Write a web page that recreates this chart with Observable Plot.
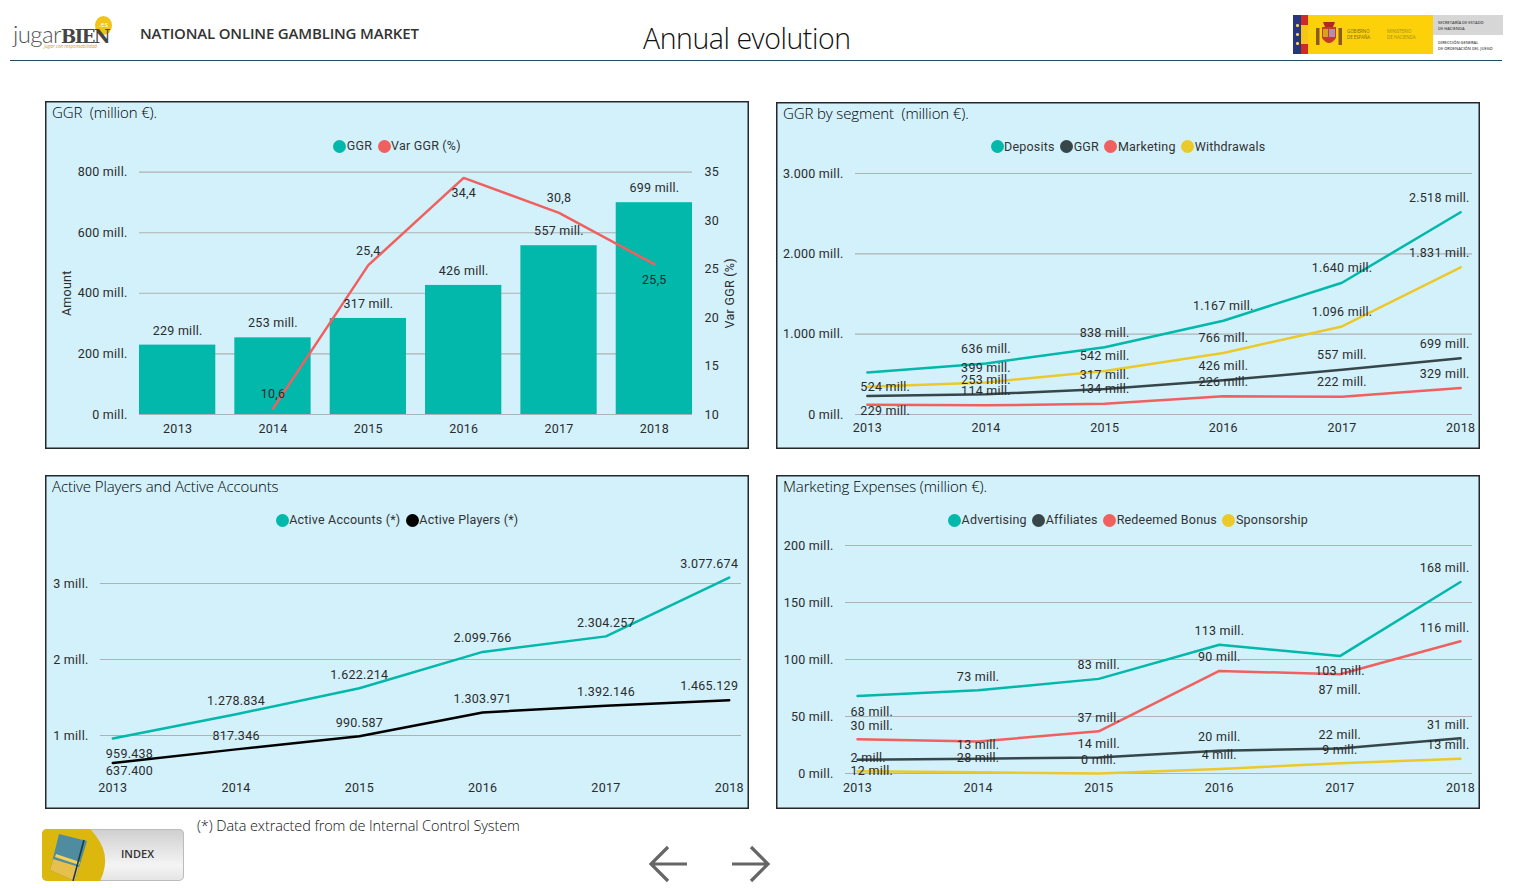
<!DOCTYPE html>
<html><head><meta charset="utf-8">
<script src="https://cdn.jsdelivr.net/npm/d3@7"></script>
<script src="https://cdn.jsdelivr.net/npm/@observablehq/plot@0.6"></script>
<style>
html,body{margin:0;padding:0;background:#fff;width:1518px;height:888px;overflow:hidden;font-family:"Open Sans",sans-serif;color:#333}
.abs{position:absolute}
.panel{position:absolute;background:#d2f1fb;box-shadow:inset 0 0 0 1.5px #23292b}
.panel svg{position:absolute;left:0;top:0}
.ptitle{position:absolute;left:7px;top:1px;font:300 15px/20px "Open Sans",sans-serif;color:#000;white-space:pre;letter-spacing:-.12px}
.legend{position:absolute;left:0;right:0;display:flex;justify-content:center;align-items:center;font:12.5px/14px Roboto,sans-serif;color:#333;letter-spacing:.2px}
.legend i{display:inline-block;width:13px;height:13px;border-radius:50%;margin:0 .5px 0 5.5px}
.legend i:first-child{margin-left:0}
</style></head><body>
<script>
const years = [2013, 2014, 2015, 2016, 2017, 2018];

// Panel 1: GGR bars and yearly variation
const ggr = [229, 253, 317, 426, 557, 699];
const varGgr = [10.6, 25.4, 34.4, 30.8, 25.5];
const varYears = [2014, 2015, 2016, 2017, 2018];
const varLabels = ["10,6", "25,4", "34,4", "30,8", "25,5"];

// Panel 2: GGR by segment
const deposits = [524, 636, 838, 1167, 1640, 2518];
const withdrawals = [345, 399, 542, 766, 1096, 1831];
const marketing = [120, 114, 134, 226, 222, 329];

// Panel 3: players and accounts
const activeAccounts = [959438, 1278834, 1622214, 2099766, 2304257, 3077674];
const activePlayers = [637400, 817346, 990587, 1303971, 1392146, 1465129];

// Panel 4: marketing expenses
const advertising = [68, 73, 83, 113, 103, 168];
const affiliates = [12, 13, 14, 20, 22, 31];
const redeemedBonus = [30, 28, 37, 90, 87, 116];
const sponsorship = [2, 1, 0, 4, 9, 13];

const TEAL="#01b8aa", DARK="#374649", RED="#f0605e", YELLOW="#ecc92a", BLACK="#000";
const GRID="#adb3b5", TEXT="#2b2b2b";
const FONT='Roboto, sans-serif';
const plotStyle={background:"transparent",fontFamily:FONT,fontSize:"12.5px",color:TEXT,letterSpacing:".25px"};

const mill=v=>d3.format(",")(v).replace(/,/g,".")+" mill.";
const dotted=v=>d3.format(",")(v).replace(/,/g,".");

function panel(x,y,w,h,title,legend){
  const p=document.createElement("div");p.className="panel";
  p.style.cssText=`left:${x}px;top:${y}px;width:${w+1}px;height:${h+1}px`;
  const t=document.createElement("div");t.className="ptitle";t.textContent=title;p.append(t);
  const l=document.createElement("div");l.className="legend";l.style.top=(legend.top-6)+"px";
  for(const [n,c] of legend.items){
    const i=document.createElement("i");i.style.background=c;l.append(i);
    l.append(document.createTextNode(n));
  }
  p.append(l);document.body.append(p);
  return p;
}

// rows for a multi-series line chart; `dy` lists label offsets that differ from the default
function rows(series,above){
  return series.flatMap(s=>s.values.map((v,i)=>({
    year:years[i],value:v,name:s.name,color:s.color,
    label:(s.hide||[]).includes(i)?null:s.fmt(v),
    dy:(s.dy&&s.dy[i]!=null)?s.dy[i]:above
  })));
}
// first and last labels are kept inside the plot, as the reference does
function labelMarks(data){
  const shown=data.filter(d=>d.label!=null);
  const edge=(g,extra)=>d3.groups(g,d=>d.dy).map(([dy,gg])=>
    Plot.text(gg,{x:"year",y:"value",text:"label",dy,fill:TEXT,...extra}));
  return [
    ...edge(shown.filter(d=>d.year>2013&&d.year<2018),{}),
    ...edge(shown.filter(d=>d.year===2013),{textAnchor:"start",dx:-7}),
    ...edge(shown.filter(d=>d.year===2018),{textAnchor:"end",dx:9})
  ];
}
function linePanel(p,{w,h,ml,mr,mt,mb,domain,ticks,fmt,series,width=2.5,pad=9,above=-14.5}){
  const data=rows(series,above);
  p.append(Plot.plot({
    width:w,height:h,marginLeft:ml,marginRight:mr,marginTop:mt,marginBottom:mb,style:plotStyle,
    x:{domain:[2012.9,2018.1]},
    y:{domain},
    marks:[
      Plot.ruleY(ticks,{stroke:GRID,strokeWidth:1.1}),
      Plot.axisY({ticks,tickSize:0,tickPadding:12,tickFormat:fmt,label:null,stroke:"none",fill:TEXT}),
      Plot.axisX({ticks:years,tickSize:0,tickPadding:pad,tickFormat:"d",label:null,fill:TEXT}),
      ...series.map(s=>Plot.line(data.filter(d=>d.name===s.name),{x:"year",y:"value",stroke:s.color,strokeWidth:width})),
      ...labelMarks(data)
    ]
  }));
}

// Panel 1
{
  const w=703,h=347;
  const p=panel(45,101,w,h,"GGR  (million €).",{top:44,items:[["GGR",TEAL],["Var GGR (%)",RED]]});
  const toLeft=d3.scaleLinear([10,35],[0,800]);
  const leftTicks=[0,200,400,600,800];
  const rightTicks=[10,15,20,25,30,35];
  const varRows=varYears.map((y,i)=>({year:y,v:toLeft(varGgr[i]),label:varLabels[i]}));
  const below=new Set(["34,4","25,5"]);
  p.append(Plot.plot({
    width:w,height:h,marginLeft:94,marginRight:56,marginTop:70.6,marginBottom:34,style:plotStyle,
    x:{type:"band",domain:years,paddingInner:.2,paddingOuter:0,round:false},
    y:{domain:[0,800]},
    marks:[
      Plot.ruleY(leftTicks,{stroke:GRID,strokeWidth:1.1}),
      Plot.axisY({ticks:leftTicks,tickSize:0,tickPadding:12,tickFormat:mill,label:"Amount",labelAnchor:"center",labelArrow:"none",labelOffset:77,fill:TEXT}),
      Plot.axisY({anchor:"right",ticks:rightTicks.map(toLeft),tickSize:0,tickPadding:12,tickFormat:v=>Math.round(toLeft.invert(v)),label:"Var GGR (%)",labelAnchor:"center",labelArrow:"none",labelOffset:41,fill:TEXT}),
      Plot.axisX({tickSize:0,tickPadding:10,tickFormat:"d",label:null,fill:TEXT}),
      Plot.barY(years.map((y,i)=>({year:y,v:ggr[i]})),{x:"year",y:"v",fill:TEAL}),
      Plot.line(varRows,{x:"year",y:"v",stroke:RED,strokeWidth:2.5}),
      Plot.text(years.map((y,i)=>({year:y,v:ggr[i]})),{x:"year",y:"v",text:d=>mill(d.v),dy:-14.5,fill:TEXT}),
      Plot.text(varRows.filter(d=>!below.has(d.label)),{x:"year",y:"v",text:"label",dy:-14.5,fill:TEXT}),
      Plot.text(varRows.filter(d=>below.has(d.label)),{x:"year",y:"v",text:"label",dy:15.5,fill:TEXT})
    ]
  }));
}

// Panel 2
{
  const w=703,h=346;
  const p=panel(776,102,w,h,"GGR by segment  (million €).",{top:43.5,items:[["Deposits",TEAL],["GGR",DARK],["Marketing",RED],["Withdrawals",YELLOW]]});
  linePanel(p,{w,h,ml:79,mr:7,mt:71,mb:34,domain:[0,3000],ticks:[0,1000,2000,3000],fmt:mill,pad:9,series:[
    {name:"Deposits",values:deposits,color:TEAL,fmt:mill,dy:[15]},
    {name:"Withdrawals",values:withdrawals,color:YELLOW,fmt:mill,hide:[0]},
    {name:"GGR",values:ggr,color:DARK,fmt:mill,dy:[15]},
    {name:"Marketing",values:marketing,color:RED,fmt:mill,hide:[0]}
  ]});
}

// Panel 3
{
  const w=703,h=333;
  const p=panel(45,475,w,h,"Active Players and Active Accounts",{top:44,items:[["Active Accounts (*)",TEAL],["Active Players (*)",BLACK]]});
  linePanel(p,{w,h,ml:55,mr:7,mt:70,mb:35,domain:[500000,3500000],ticks:[1e6,2e6,3e6],fmt:v=>(v/1e6)+" mill.",pad:10,above:-13.7,series:[
    {name:"Active Accounts",values:activeAccounts,color:TEAL,fmt:dotted,dy:[15.5]},
    {name:"Active Players",values:activePlayers,color:BLACK,fmt:dotted,dy:[7.5]}
  ]});
}

// Panel 4
{
  const w=703,h=333;
  const p=panel(776,475,w,h,"Marketing Expenses (million €).",{top:44,items:[["Advertising",TEAL],["Affiliates",DARK],["Redeemed Bonus",RED],["Sponsorship",YELLOW]]});
  linePanel(p,{w,h,ml:69,mr:7,mt:70,mb:35,domain:[0,200],ticks:[0,50,100,150,200],fmt:mill,pad:10,above:-13.5,series:[
    {name:"Advertising",values:advertising,color:TEAL,fmt:mill,dy:[16.5,null,null,null,15]},
    {name:"Redeemed Bonus",values:redeemedBonus,color:RED,fmt:mill,dy:[null,16,null,null,16]},
    {name:"Affiliates",values:affiliates,color:DARK,fmt:mill,dy:[11]},
    {name:"Sponsorship",values:sponsorship,color:YELLOW,fmt:mill,hide:[1]}
  ]});
}
</script>

<!-- header -->
<div class="abs" style="left:10px;top:60px;width:1492px;height:1.2px;background:#1c4f60"></div>
<div class="abs" style="left:140px;top:23px;font:600 15px/20px 'Open Sans',sans-serif;color:#333;white-space:nowrap;letter-spacing:-.17px">NATIONAL ONLINE GAMBLING MARKET</div>
<div class="abs" style="left:643px;top:18px;font:300 28.5px/40px 'Open Sans',sans-serif;color:#111;white-space:nowrap;letter-spacing:-.45px">Annual evolution</div>
<div class="abs" style="left:197px;top:816px;font:300 14.5px/20px 'Open Sans',sans-serif;color:#111;white-space:nowrap;letter-spacing:-.1px">(*) Data extracted from de Internal Control System</div>

<!-- jugarBIEN logo -->
<div class="abs" style="left:95px;top:16px;width:17px;height:19px;border-radius:50%;background:#f0c419;color:#fff;font:7px/17px 'Open Sans';text-align:center">.es</div>
<div class="abs" style="left:13px;top:24px;font:300 24px/20px Lato,sans-serif;color:#555;white-space:nowrap;letter-spacing:-.6px">jugar<span style="font:900 18px/20px 'DejaVu Serif',Roboto,serif;color:#444;letter-spacing:-1.4px">BIEN</span></div>
<div class="abs" style="left:44px;top:44px;font:italic 4.6px/5px 'Open Sans';color:#c9a30f;white-space:nowrap">jugar con responsabilidad</div>

<!-- government logo -->
<div class="abs" style="left:1293px;top:15px;width:8px;height:39px;background:#27357e"></div>
<div class="abs" style="left:1296px;top:24px;width:2.5px;height:2.5px;border-radius:50%;background:#f5d65a;box-shadow:0 9px 0 #f5d65a,0 18px 0 #f5d65a"></div>
<div class="abs" style="left:1301px;top:15px;width:7px;height:39px;background:linear-gradient(#cf2a27 25%,#f5c518 25%,#f5c518 75%,#cf2a27 75%)"></div>
<div class="abs" style="left:1308px;top:15px;width:125px;height:39px;background:#fdd10a"></div>
<div class="abs" style="left:1433px;top:15px;width:70px;height:19.5px;background:#d6d6d6"></div>
<svg class="abs" style="left:1315px;top:20px" width="28" height="28">
  <rect x="1" y="8" width="3.5" height="17" fill="#8a5a20"/><rect x="23.5" y="8" width="3.5" height="17" fill="#8a5a20"/>
  <path d="M7 7h14v11q-7 10-14 0z" fill="#c43b2b"/><path d="M8 2h12l-2 5h-8z" fill="#b0281e"/>
  <rect x="14" y="9" width="6" height="8" fill="#b58cb0"/><rect x="8" y="9" width="5" height="8" fill="#d9a21c"/>
</svg>
<div class="abs" style="left:1347px;top:29px;font:4.4px/5.5px 'Open Sans';color:#776a10">GOBIERNO<br>DE ESPAÑA</div>
<div class="abs" style="left:1387px;top:29px;font:4.4px/5.5px 'Open Sans';color:#a08f10">MINISTERIO<br>DE HACIENDA</div>
<div class="abs" style="left:1438px;top:20px;font:600 4px/6px 'Open Sans';color:#444">SECRETARÍA DE ESTADO<br>DE HACIENDA</div>
<div class="abs" style="left:1438px;top:40px;font:600 4px/6px 'Open Sans';color:#444;white-space:nowrap">DIRECCIÓN GENERAL<br>DE ORDENACIÓN DEL JUEGO</div>

<!-- index button -->
<div class="abs" style="left:42px;top:829px;width:142px;height:52px;border-radius:5px;overflow:hidden;background:linear-gradient(#cfcfcf,#f4f4f4 70%,#e4e4e4);box-shadow:inset 0 0 0 1px #bbb">
  <svg width="142" height="52" style="position:absolute;left:0;top:0">
    <path d="M0 0H48Q72 24 58 52H0z" fill="#dcb80e"/>
    <path d="M17 5L45 12L33 52L8 41z" fill="#4f8c9f"/>
    <path d="M11 30L37 38L33 52L8 41z" fill="#e6bf4c"/>
    <path d="M14 25L38 33L37 36L13 28z" fill="#f3d25b"/>
    <path d="M42 11L31 52" stroke="#1d3a4a" stroke-width="1.6" fill="none"/>
  </svg>
  <div class="abs" style="left:79px;top:17px;font:600 11px/16px 'Open Sans',sans-serif;color:#333">INDEX</div>
</div>

<!-- arrows -->
<svg class="abs" style="left:640px;top:840px" width="140" height="48" fill="none" stroke="#666" stroke-width="3.2">
  <path d="M47 24H11M28 7L11 24L28 41"/>
  <path d="M92 24H128M111 7L128 24L111 41"/>
</svg>
</body></html>
